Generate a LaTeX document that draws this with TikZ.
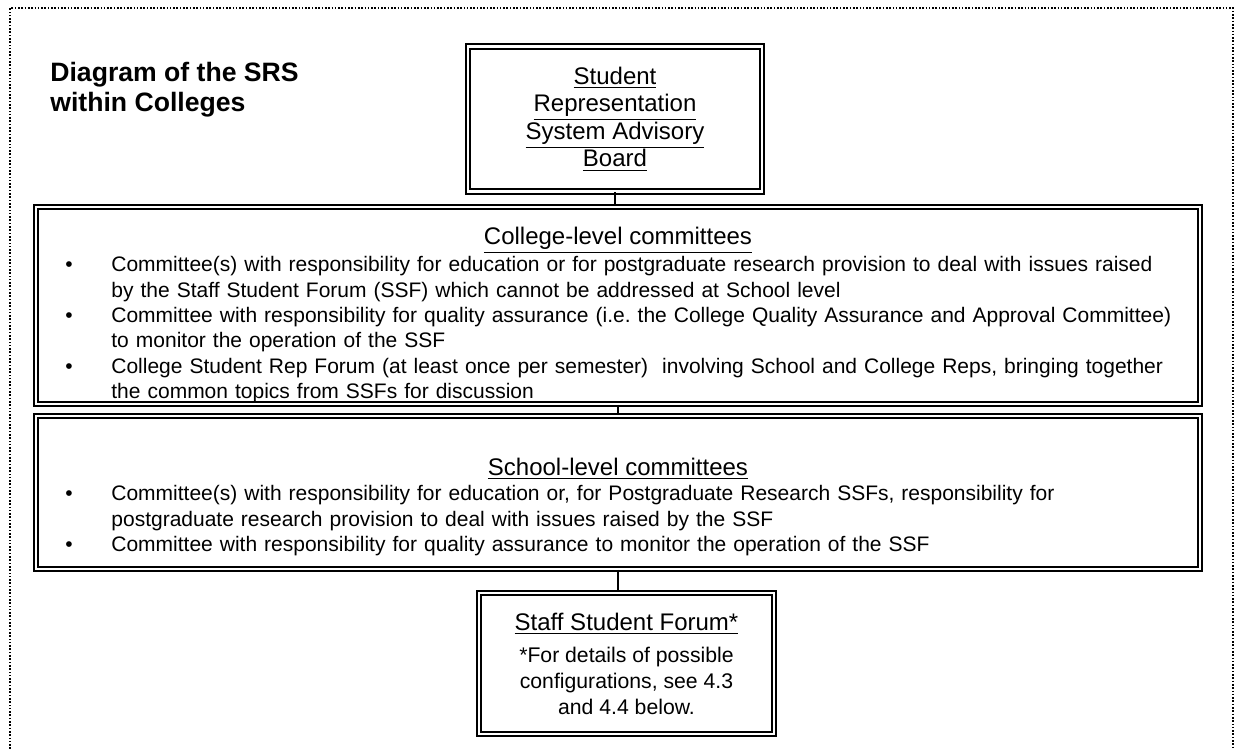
\documentclass[tikz,border=0pt]{standalone}
\usepackage{fontspec}
\setmainfont{Liberation Sans}
\usetikzlibrary{positioning, calc}

\newcommand{\headfont}{\fontsize{12}{13.8}\selectfont}
\newcommand{\bodyfont}{\fontsize{10.5}{12.7}\selectfont}
\newcommand{\srsitem}[1]{\hangindent=23pt\hangafter=1\noindent\makebox[23pt][l]{\textbullet}#1\par}

\begin{document}
\frenchspacing
\begin{tikzpicture}[
        x=0.5pt, y=-0.5pt,
        panel/.style={draw, line width=0.9pt, double, double distance=1.3pt, inner sep=0pt},
        heading/.style={anchor=base, inner sep=0pt, font=\headfont},
        bullets/.style={anchor=north west, inner sep=0pt, text width=600pt, align=left, font=\bodyfont},
        link/.style={line width=1pt},
        frame/.style={line width=0.8pt, dash pattern=on 0.8pt off 0.85pt}
    ]
        \useasboundingbox (0,0) rectangle (1239,749);

        % Dotted frame (open at the bottom)
        \draw[frame] (10,749) -- (10,8) -- (1233,8) -- (1233,749);

        % Title
        \node[anchor=north west, inner sep=0pt, align=left,
              font=\bfseries\fontsize{13.3}{15}\selectfont] (title) at (50,62)
            {Diagram of the SRS\\within Colleges};

        % Advisory board
        \node[panel, minimum width=147pt, minimum height=72.5pt, align=center, font=\headfont]
            (board) at (615,119) {\underline{Student}\\\underline{Representation}\\
             \underline{System Advisory}\\\underline{Board}};

        % College level
        \node[panel, minimum width=582pt, minimum height=98.5pt] (college) at (618,305.5) {};
        \node[heading] (collegehead) at (618,245) {\underline{College-level committees}};
        \node[bullets] (collegelist) at (65,256)
            {\srsitem{Committee(s) with responsibility for education or for postgraduate research provision to deal with issues raised\newline
                      by the Staff Student Forum (SSF) which cannot be addressed at School level}
             \srsitem{Committee with responsibility for quality assurance (i.e. the College Quality Assurance and Approval Committee)\newline
                      to monitor the operation of the SSF}
             \srsitem{College Student Rep Forum (at least once per semester)\ \ involving School and College Reps, bringing together\newline
                      the common topics from SSFs for discussion}};
        \draw[link] (board.south) -- (board.south |- college.north);

        % School level
        \node[panel, minimum width=582pt, minimum height=76.5pt] (school) at (618,492.5) {};
        \node[heading] (schoolhead) at (618,475) {\underline{School-level committees}};
        \node[bullets] (schoollist) at (65,485)
            {\srsitem{Committee(s) with responsibility for education or, for Postgraduate Research SSFs, responsibility for\newline
                      postgraduate research provision to deal with issues raised by the SSF}
             \srsitem{Committee with responsibility for quality assurance to monitor the operation of the SSF}};
        \draw[link] (college.south) -- (school.north);

        % Staff Student Forum
        \node[panel, minimum width=147.5pt, minimum height=70.5pt, align=center,
              font=\fontsize{10.6}{13}\selectfont] (forum) at (626.5,663.5)
            {{\headfont\underline{Staff Student Forum*}}\\[3pt]
             *For details of possible\\configurations, see 4.3\\and 4.4 below.};
        \draw[link] (school.south) -- (school.south |- forum.north);
    \end{tikzpicture}
\end{document}
